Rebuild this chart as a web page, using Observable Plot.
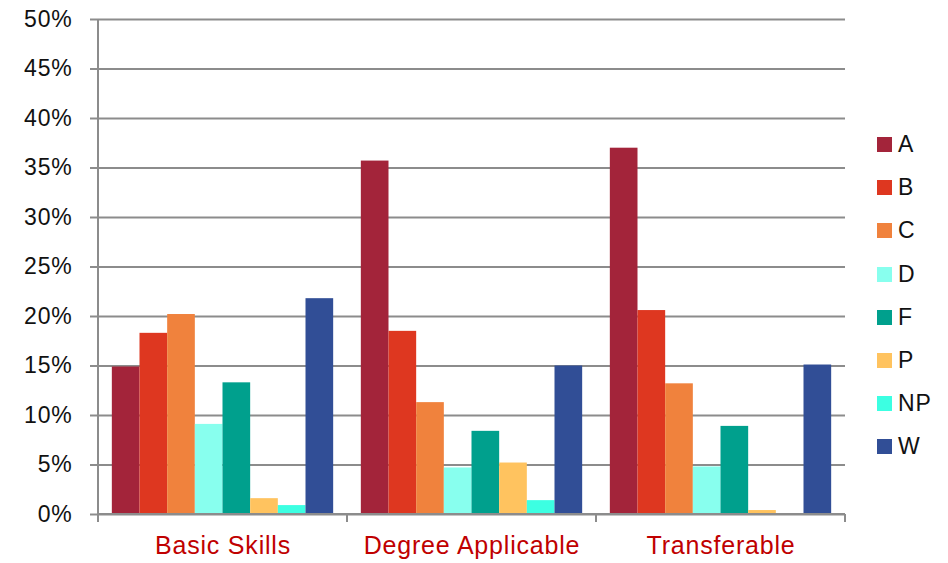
<!DOCTYPE html>
<html><head><meta charset="utf-8">
<script src="https://cdn.jsdelivr.net/npm/d3@7"></script>
<script src="https://cdn.jsdelivr.net/npm/@observablehq/plot@0.6"></script>
<style>
body{margin:0;background:#fff;}
#wrap{position:relative;width:948px;height:563px;font-family:"Liberation Sans",Arial,sans-serif;}
#legend{position:absolute;left:877px;top:123px;}
.item{display:flex;align-items:center;height:43.2px;font-size:23px;color:#111;letter-spacing:0.9px;}
.sw{width:15px;height:15px;margin-right:6px;flex:none;}
</style></head><body><div id="wrap"><div id="chart"></div><div id="legend"></div></div>
<script>
const groups = ["Basic Skills", "Degree Applicable", "Transferable"];
const series = ["A", "B", "C", "D", "F", "P", "NP", "W"];
const colors = ["#A3243A", "#DE3720", "#F0823D", "#88FFEE", "#00A08D", "#FFC35F", "#3CFFE2", "#314E96"];
const basicSkills = [14.9, 18.3, 20.2, 9.1, 13.3, 1.6, 0.9, 21.8];
const degreeApplicable = [35.7, 18.5, 11.3, 4.7, 8.4, 5.2, 1.4, 15.0];
const transferable = [37.0, 20.6, 13.2, 4.8, 8.9, 0.4, 0, 15.1];
const yTicks = [0, 5, 10, 15, 20, 25, 30, 35, 40, 45, 50];

const valuesByGroup = [basicSkills, degreeApplicable, transferable];
const data = [];
groups.forEach((g, gi) => series.forEach((s, si) => data.push({group: g, series: s, value: valuesByGroup[gi][si]})));

const gridColor = "#8c8c8c";
const font = '"Liberation Sans", Arial, sans-serif';

const chart = Plot.plot({
  width: 948, height: 563,
  marginLeft: 98, marginRight: 103, marginTop: 19, marginBottom: 49,
  style: {fontFamily: font, background: "transparent", overflow: "visible"},
  fx: {domain: groups, padding: 0, round: false, label: null},
  x: {domain: series, paddingInner: 0, paddingOuter: 0.5, round: false, axis: null},
  y: {domain: [0, 50], label: null},
  color: {domain: series, range: colors},
  marks: [
    Plot.gridY(yTicks, {stroke: gridColor, strokeOpacity: 1, strokeWidth: 2}),
    Plot.barY(data, {fx: "group", x: "series", y: "value", fill: "series"}),
    Plot.axisY(yTicks, {tickSize: 8, tickPadding: 18, tickFormat: d => d + "%", fontSize: 23, stroke: gridColor, strokeWidth: 2, fill: "#111", label: null}),
    Plot.axisFx({anchor: "bottom", tickSize: 0, tickPadding: 22, fontSize: 25, fill: "#C00000", label: null})
  ]
});

// axis lines derived from the plot's own scales
const fx = chart.scale("fx"), y = chart.scale("y");
const svg = d3.select(chart);
const ax = svg.append("g").attr("stroke", gridColor).attr("stroke-width", 2);
const left = fx.apply(groups[0]);
ax.append("line").attr("x1", left).attr("x2", left).attr("y1", y.apply(50)).attr("y2", y.apply(0) + 8);
ax.append("line").attr("x1", left).attr("x2", fx.apply(groups[groups.length - 1]) + fx.bandwidth).attr("y1", y.apply(0)).attr("y2", y.apply(0));
const bounds = groups.map(g => fx.apply(g)).concat([fx.apply(groups[groups.length - 1]) + fx.bandwidth]);
bounds.forEach(b => ax.append("line").attr("x1", b).attr("x2", b).attr("y1", y.apply(0)).attr("y2", y.apply(0) + 8));
svg.selectAll("text").attr("letter-spacing", "0.8px");

document.getElementById("chart").appendChild(chart);

const legend = document.getElementById("legend");
series.forEach((s, i) => {
  const item = document.createElement("div");
  item.className = "item";
  const sw = document.createElement("span");
  sw.className = "sw";
  sw.style.background = colors[i];
  const lab = document.createElement("span");
  lab.textContent = s;
  item.appendChild(sw); item.appendChild(lab);
  legend.appendChild(item);
});
</script></body></html>
